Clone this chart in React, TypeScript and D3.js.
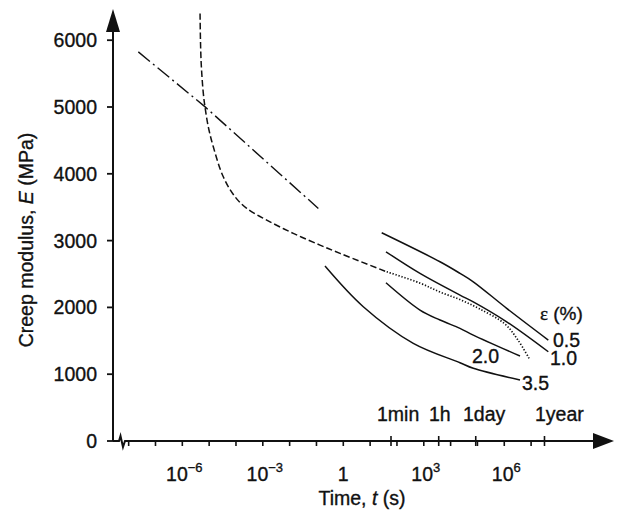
import React from "react";
import * as d3 from "d3";

// ---- data (log10 of time in seconds, creep modulus in MPa) ----
const yTicks = [0, 1000, 2000, 3000, 4000, 5000, 6000];
const xMinorTicks = [-8, -7, -6, -5, -4, -3, -2, -1, 0, 1, 2, 3, 4, 5, 6, 7];
const xLabelExps = [-6, -3, 0, 3, 6];
const timeMarks = [
  { label: "1min", seconds: 60 },
  { label: "1h", seconds: 3600 },
  { label: "1day", seconds: 86400 },
  { label: "1year", seconds: 31536000 },
];

const dashDotLogT = [-7.64, -5.15, -0.93];
const dashDotE = [5825, 5002, 3482];

const dashedLogT = [-5.339, -5.302, -5.218, -5.155, -5.032, -4.845, -4.473, -4.036, -3.6, -2.855, -1.864, -0.868, -0.123, 1.618];
const dashedE = [6400, 5701, 5207, 5002, 4703, 4404, 3955, 3656, 3482, 3307, 3108, 2933, 2809, 2533];

const dottedLogT = [1.618, 2.859, 3.604, 4.349, 5.094, 6.027, 6.511, 6.959];
const dottedE = [2533, 2364, 2230, 2117, 1975, 1751, 1511, 1212];

const strainLabels = ["0.5", "1.0", "2.0", "3.5"];
const curve05LogT = [1.431, 3.604, 4.35, 4.845, 6.09, 7.641];
const curve05E = [3117, 2683, 2509, 2383, 1986, 1511];
const curve10LogT = [1.591, 2.859, 4.349, 4.845, 6.09, 7.641];
const curve10E = [2833, 2509, 2185, 2084, 1785, 1336];
const curve20LogT = [1.591, 2.859, 3.604, 4.349, 4.845, 6.586];
const curve20E = [2369, 1960, 1811, 1686, 1586, 1272];
const curve35LogT = [-0.682, 0.745, 2.609, 4.349, 4.845, 6.586];
const curve35E = [2619, 2010, 1462, 1172, 1088, 913];

const FONT = "'Liberation Sans', Arial, Helvetica, sans-serif";
const INK = "#111";

export default function App() {
  const W = 626, H = 516;
  const x = d3.scaleLinear().domain([-8, 7]).range([128.66, 531.1]);
  const y = d3.scaleLinear().domain([0, 6000]).range([441, 40.2]);
  const x0 = 113; // y-axis position
  const y0 = y(0);

  const mk = (lt: number[], e: number[]) => lt.map((v, i) => [v, e[i]] as [number, number]);
  const smooth = d3.line<[number, number]>().x(d => x(d[0])).y(d => y(d[1])).curve(d3.curveCatmullRom.alpha(0.5));
  const straight = d3.line<[number, number]>().x(d => x(d[0])).y(d => y(d[1]));

  const solids = [
    mk(curve05LogT, curve05E),
    mk(curve10LogT, curve10E),
    mk(curve20LogT, curve20E),
    mk(curve35LogT, curve35E),
  ];

  const labelPos = [
    { x: 553, y: 347 },
    { x: 550, y: 365 },
    { x: 472, y: 363 },
    { x: 522, y: 390 },
  ];

  const txt = { fill: INK, stroke: INK, strokeWidth: 0.35 };

  return (
    <svg width={W} height={H} style={{ position: "absolute", left: 0, top: 0, background: "#fff" }} fontFamily={FONT}>
      <rect x={0} y={0} width={W} height={H} fill="#fff" />
      {/* y axis */}
      <line x1={x0} y1={y0} x2={x0} y2={30} stroke={INK} strokeWidth={2} />
      <path d={`M${x0},9 L${x0 - 7},32 L${x0 + 7},32 Z`} fill={INK} />
      {yTicks.map(t => (
        <g key={t}>
          <line x1={x0 - 6} x2={x0} y1={y(t)} y2={y(t)} stroke={INK} strokeWidth={1.8} />
          <text x={97} y={y(t)} dy="0.36em" textAnchor="end" fontSize={19.5} {...txt}>{t}</text>
        </g>
      ))}
      {/* x axis with break */}
      <path
        d={`M${x0},${y0} L119,${y0} L120.5,${y0 - 5} L123,${y0 + 6} L125,${y0} L595,${y0}`}
        fill="none" stroke={INK} strokeWidth={2} strokeLinejoin="miter"
      />
      <path d={`M614,${y0} L593,${y0 - 8} L593,${y0 + 8} Z`} fill={INK} />
      {xMinorTicks.map(t => (
        <line key={t} x1={x(t)} x2={x(t)} y1={y0} y2={y0 + 5} stroke={INK} strokeWidth={1.6} />
      ))}
      {timeMarks.map(m => {
        const px = x(Math.log10(m.seconds));
        return (
          <g key={m.label}>
            <line x1={px} x2={px} y1={y0 - 5} y2={y0 + 5} stroke={INK} strokeWidth={1.6} />
          </g>
        );
      })}
      <text x={377} y={421} fontSize={19.5} {...txt}>1min</text>
      <text x={429} y={421} fontSize={19.5} {...txt}>1h</text>
      <text x={463} y={421} fontSize={19.5} {...txt}>1day</text>
      <text x={535} y={421} fontSize={19.5} {...txt}>1year</text>
      {xLabelExps.map(e => (
        <text key={e} x={x(e) + (e === 0 ? 0 : 2)} y={481} textAnchor="middle" fontSize={19.5} {...txt}>
          {e === 0 ? "1" : (
            <>
              10<tspan dy={-9} fontSize={13}>{e < 0 ? `\u2212${-e}` : `${e}`}</tspan>
            </>
          )}
        </text>
      ))}
      {/* axis titles */}
      <text x={362} y={505} textAnchor="middle" fontSize={19.5} {...txt}>
        Time, <tspan fontStyle="italic">t</tspan> (s)
      </text>
      <text transform={`translate(33,240) rotate(-90)`} textAnchor="middle" fontSize={19.5} {...txt}>
        Creep modulus, <tspan fontStyle="italic">E</tspan> (MPa)
      </text>
      {/* curves */}
      <path d={straight(mk(dashDotLogT, dashDotE)) || ""} fill="none" stroke={INK} strokeWidth={1.4} strokeDasharray="15,4,2,4" />
      <path d={smooth(mk(dashedLogT, dashedE)) || ""} fill="none" stroke={INK} strokeWidth={1.5} strokeDasharray="6.5,3" />
      <path d={smooth(mk(dottedLogT, dottedE)) || ""} fill="none" stroke={INK} strokeWidth={1.7} strokeDasharray="1.3,1.8" />
      {solids.map((c, i) => (
        <path key={i} d={smooth(c) || ""} fill="none" stroke={INK} strokeWidth={1.5} />
      ))}
      {strainLabels.map((s, i) => (
        <text key={s} x={labelPos[i].x} y={labelPos[i].y} fontSize={19.5} {...txt}>{s}</text>
      ))}
      <text x={540} y={320} fontSize={19} {...txt}>
        <tspan fontFamily="'Liberation Serif', 'DejaVu Serif', serif">ε</tspan> (%)
      </text>
    </svg>
  );
}
